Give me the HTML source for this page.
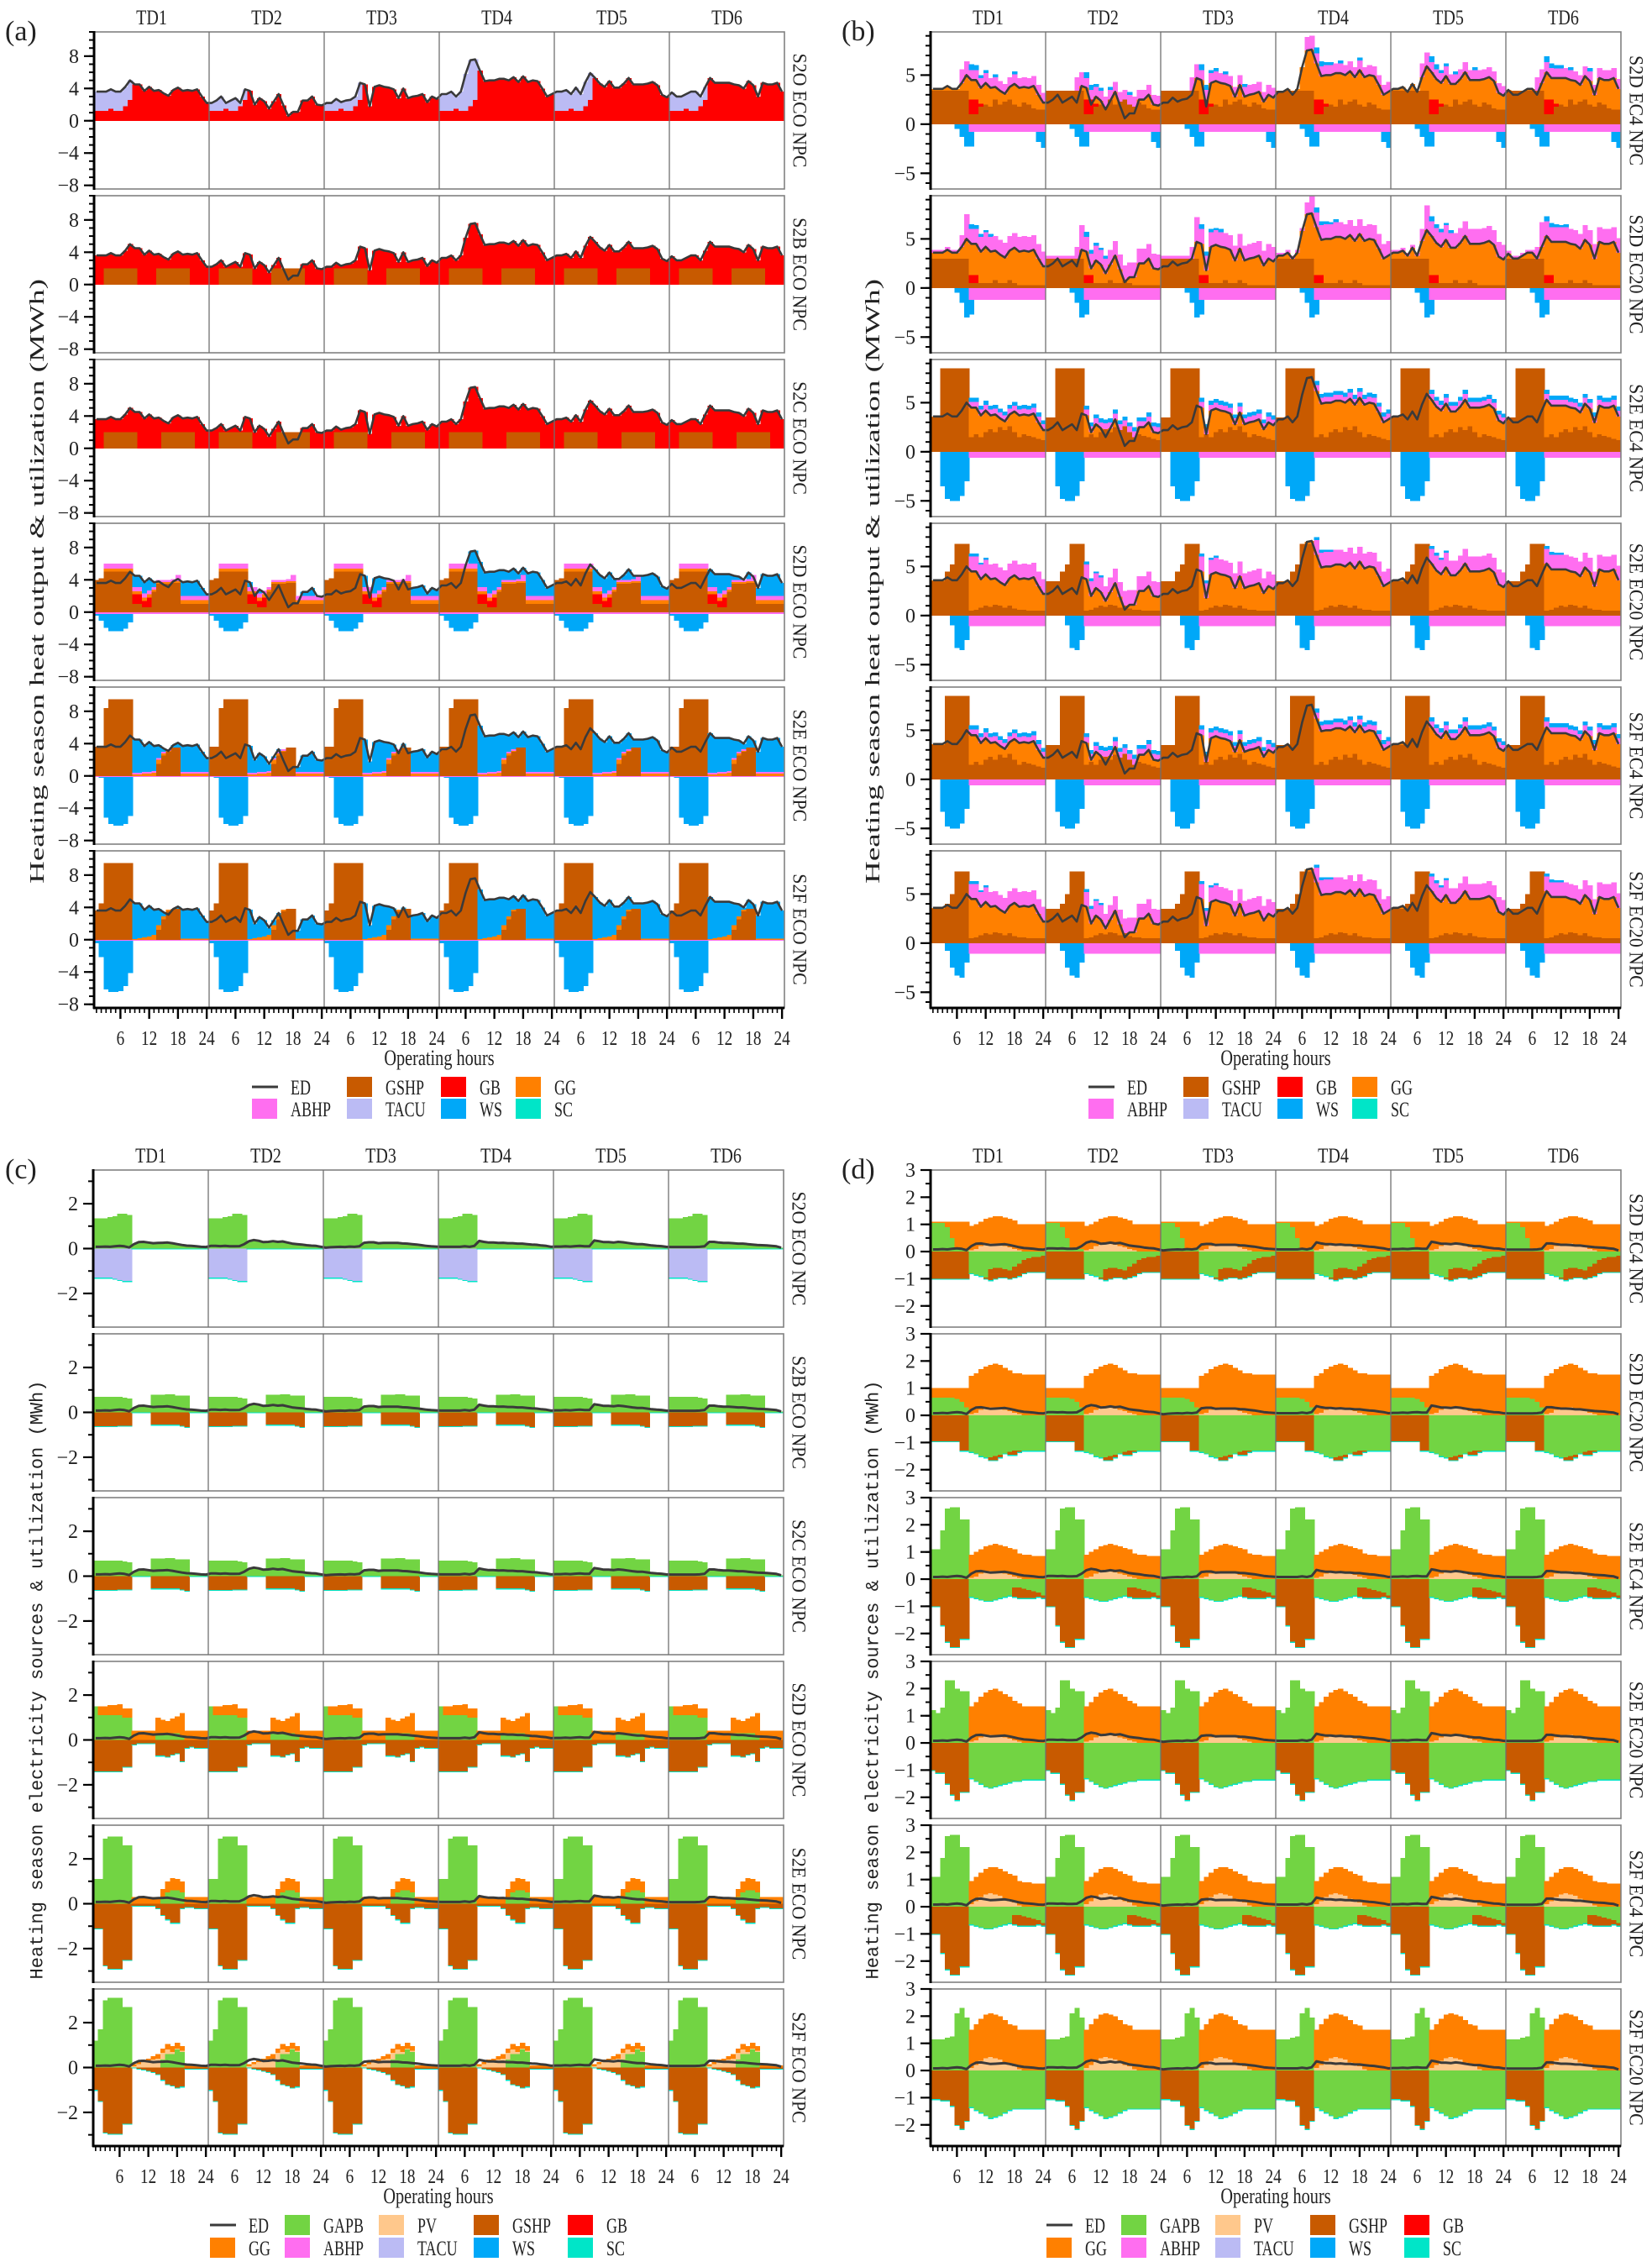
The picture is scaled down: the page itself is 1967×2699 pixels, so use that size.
<!DOCTYPE html>
<html><head><meta charset="utf-8">
<style>
html,body{margin:0;padding:0;background:#fff;}
svg{display:block;}
text{font-family:"Liberation Serif",serif;fill:#222;}
.mono{font-family:"Liberation Mono",monospace;}
</style></head>
<body>
<svg id="chart" width="1967" height="2699" viewBox="0 0 1967 2699" xmlns="http://www.w3.org/2000/svg"></svg>
<script>
// ---------------- DATA ----------------
const tdLabels=['TD1','TD2','TD3','TD4','TD5','TD6'];
const hourTicks=[6,12,18,24];
const heatTicks=[-8,-4,0,4,8];
const heatTicksB=[-5,0,5];
const elecTicksC=[-2,0,2];
const elecTicksD=[-2,-1,0,1,2,3];
const labelsA=['S2O ECO NPC','S2B ECO NPC','S2C ECO NPC','S2D ECO NPC','S2E ECO NPC','S2F ECO NPC'];
const labelsB=['S2D EC4 NPC','S2D EC20 NPC','S2E EC4 NPC','S2E EC20 NPC','S2F EC4 NPC','S2F EC20 NPC'];

const HEAT_ED=[
3.6,3.6,3.6,3.9,3.6,3.6,4.2,5.0,4.5,4.5,3.7,4.2,3.7,3.8,3.4,3.1,3.8,4.1,3.7,3.8,3.7,3.9,3.0,2.2,
2.2,2.5,3.0,2.2,2.5,2.8,2.2,3.9,3.7,2.0,2.8,2.4,1.5,2.4,3.3,1.9,0.6,1.1,1.1,2.5,2.5,3.0,2.0,1.9,
2.2,2.2,2.7,2.3,2.5,2.6,3.0,4.7,4.5,1.8,4.2,4.4,4.2,4.1,3.9,2.8,4.0,2.8,3.0,3.1,3.3,2.3,3.0,2.7,
3.3,3.3,3.6,3.0,3.6,5.8,7.5,7.6,6.2,4.9,5.0,5.0,5.2,5.2,5.0,5.4,4.8,5.5,4.8,5.0,4.9,4.0,3.0,3.3,
3.6,3.6,3.8,3.3,4.1,3.3,4.8,5.9,5.3,4.6,4.2,4.9,4.1,4.1,4.6,5.3,4.5,4.5,4.5,4.6,4.8,4.4,3.2,2.9,
3.5,3.0,3.0,3.3,3.6,3.6,3.0,4.2,5.3,4.7,4.7,4.7,4.7,4.5,4.4,4.0,4.9,4.4,3.0,4.7,4.5,4.5,4.7,3.6];
const ELEC_ED=[
0.08,0.08,0.09,0.08,0.10,0.12,0.10,0.05,0.20,0.29,0.30,0.27,0.24,0.25,0.26,0.27,0.24,0.20,0.16,0.13,0.12,0.10,0.08,0.07,
0.12,0.12,0.11,0.12,0.10,0.10,0.11,0.20,0.33,0.38,0.35,0.29,0.30,0.33,0.30,0.32,0.27,0.22,0.20,0.18,0.15,0.13,0.12,0.08,
0.04,0.06,0.07,0.08,0.07,0.09,0.08,0.10,0.26,0.28,0.28,0.24,0.25,0.25,0.25,0.25,0.23,0.22,0.20,0.18,0.15,0.12,0.10,0.09,
0.08,0.08,0.08,0.08,0.08,0.10,0.08,0.12,0.34,0.30,0.27,0.27,0.25,0.26,0.24,0.24,0.22,0.22,0.20,0.18,0.17,0.14,0.12,0.08,
0.09,0.09,0.10,0.09,0.11,0.12,0.10,0.10,0.36,0.33,0.29,0.29,0.27,0.30,0.28,0.25,0.22,0.20,0.20,0.17,0.14,0.12,0.11,0.08,
0.07,0.07,0.07,0.07,0.07,0.07,0.08,0.10,0.30,0.30,0.27,0.25,0.25,0.24,0.22,0.22,0.20,0.18,0.16,0.15,0.14,0.12,0.10,0.04];

// (a) heat day profiles
const a1_GBlow=[1.2,1.2,1.2,1.5,1.2,1.2,1.8,2.6,0,0,0,0,0,0,0,0,0,0,0,0,0,0,0,0];
const a1_TACUhours=[1,1,1,1,1,1,1,1,0,0,0,0,0,0,0,0,0,0,0,0,0,0,0,0];
const a2_GSHP=[0,0,2,2,2,2,2,2,2,0,0,0,0,2,2,2,2,2,2,2,0,0,0,0];
const a3_GSHP=[0,0,2,2,2,2,2,2,2,0,0,0,0,0,2,2,2,2,2,2,2,0,0,0];
const a4_GSHP=[4.0,4.2,5.0,5.0,5.0,5.0,5.0,5.0,1.0,1.0,0.6,0.6,2.5,3.5,3.5,3.5,3.6,3.6,1.0,1.0,1.0,1.0,1.0,1.0];
const a4_GB=[0,0,0,0,0,0,0,0,1.2,1.2,0.8,1.2,0,0,0,0,0,0,0,0,0,0,0,0];
const a4_GG=[0,0,0.4,0.4,0.4,0.4,0.4,0.4,0.4,0.4,0.4,0.4,0.3,0.2,0.2,0.2,0.2,0.2,0.5,0.5,0.5,0.5,0.5,0.5];
const a4_ABHP=[0,0,0.6,0.6,0.6,0.6,0.6,0.6,0.5,0.5,0.5,0.5,0.3,0.3,0.3,0.3,0.3,0.8,0.5,0.5,0.5,0.5,0.5,0.5];
const a4_WSn=[-0.2,-0.8,-1.7,-2.1,-2.1,-2.1,-1.8,-1.0,0,0,0,0,0,0,0,0,0,0,0,0,0,0,0,0];
const a4_ABHPn=[-0.25,-0.25,-0.25,-0.25,-0.25,-0.25,-0.25,-0.25,-0.25,-0.25,-0.25,-0.25,-0.25,-0.25,-0.25,-0.25,-0.25,-0.25,-0.25,-0.25,-0.25,-0.25,-0.25,-0.25];
const a5_GSHP=[3.6,3.6,8.4,9.5,9.5,9.5,9.5,9.5,0,0,0,0,0,1.5,2.5,3.0,3.5,3.5,0,0,0,0,0,0];
const a5_GG=[0,0,0,0,0,0,0,0,0.2,0.2,0.3,0.3,0.4,0.5,0.3,0.1,0,0,0.3,0.3,0.3,0.3,0.3,0.3];
const a5_ABHP=[0,0,0,0,0,0,0,0,0.2,0.2,0.2,0.2,0.2,0.2,0.2,0.2,0,0,0.2,0.2,0.2,0.2,0.2,0.2];
const a5_WSn=[0,-0.1,-5.0,-5.8,-6.0,-6.0,-5.8,-4.8,0,0,0,0,0,0,0,0,0,0,0,0,0,0,0,0];
const a5_ABHPn=[-0.15,-0.15,-0.15,-0.15,-0.15,-0.15,-0.15,-0.15,-0.15,-0.15,-0.15,-0.15,-0.15,-0.15,-0.15,-0.15,-0.15,-0.15,-0.15,-0.15,-0.15,-0.15,-0.15,-0.15];
const a6_GSHP=[3.6,4.5,9.5,9.5,9.5,9.5,9.5,9.5,0,0,0,0,0,1.2,2.5,3.5,3.8,3.8,0,0,0,0,0,0];
const a6_GG=[0,0,0,0,0,0,0,0,0.1,0.2,0.3,0.4,0.6,0.6,0.4,0.2,0,0,0.15,0.15,0.15,0.15,0.15,0.15];
const a6_WSn=[-0.3,-2.0,-6.0,-6.3,-6.3,-6.2,-5.6,-4.0,0,0,0,0,0,0,0,0,0,0,0,0,0,0,0,0];

// (b) heat day profiles
const b1_GSHP=[3.4,3.4,3.4,3.4,3.4,3.4,3.4,3.4,1.0,1.0,1.8,2.0,1.8,2.5,2.0,2.3,2.5,2.0,1.8,2.2,2.0,1.6,1.5,1.5];
const b1_GB=[0,0,0,0,0,0,0,0,1.5,1.5,0.3,0,0,0,0,0,0,0,0,0,0,0,0,0];
const b1_ABHP=[0,0,0,0,0,0,1.4,1.4,1.0,1.0,1.0,1.0,1.0,1.0,1.0,1.0,1.0,1.0,1.0,1.0,1.0,1.0,1.0,1.0];
const b1_WS=[0,0,0,0,0,0,0,0,0.6,0.5,0.3,0.3,0,0.3,0,0,0,0.3,0,0,0,0,0,0];
const b1_ABHPn=[0,0,0,0,0,0,0,0,-0.8,-0.8,-0.8,-0.8,-0.8,-0.8,-0.8,-0.8,-0.8,-0.8,-0.8,-0.8,-0.8,-0.8,-0.8,-0.8];
const b1_WSn=[0,0,0,0,0,-0.5,-1.3,-2.3,-1.5,0,0,0,0,0,0,0,0,0,0,0,0,0,-1.0,-1.6];
const b2_GSHP=[3.0,3.0,3.0,3.0,3.0,3.0,3.0,3.0,0.5,0.5,0.5,0.5,0.5,0.8,0.5,0.5,0.8,0.5,0.3,0.3,0.3,0.3,0.3,0.3];
const b2_GB=[0,0,0,0,0,0,0,0,0.8,0.8,0,0,0,0,0,0,0,0,0,0,0,0,0,0];
const b2_ABHP=[0.3,0.3,0.3,0.3,0.3,0.3,1.2,2.5,1.5,1.5,1.5,1.5,1.5,1.5,1.5,1.5,1.5,1.5,1.5,1.5,1.5,1.5,1.5,1.5];
const b2_WS=[0,0,0,0,0,0,0,0,0.5,0.4,0.3,0.2,0.3,0,0,0,0,0,0,0,0,0,0,0];
const b2_ABHPn=[0,0,0,0,0,0,0,0,-1.2,-1.2,-1.2,-1.2,-1.2,-1.2,-1.2,-1.2,-1.2,-1.2,-1.2,-1.2,-1.2,-1.2,-1.2,-1.2];
const b2_WSn=[0,0,0,0,0,-0.5,-1.5,-3.0,-1.5,0,0,0,0,0,0,0,0,0,0,0,0,0,0,0];
const b3_GSHP=[3.5,3.5,8.5,8.5,8.5,8.5,8.5,8.5,1.5,1.8,1.5,2.0,2.3,2.0,2.5,2.2,2.6,2.0,1.5,1.8,1.6,1.5,1.3,1.2];
const b3_ABHP=[0,0,0,0,0,0,0,0,0.6,0.6,0.6,0.6,0.6,0.6,0.6,0.6,0.6,0.6,0.6,0.6,0.6,0.6,0.6,0.6];
const b3_WS=[0,0,0,0,0,0,0,0,0.4,0.4,0.4,0.4,0.4,0.4,0.4,0.4,0.4,0.4,0.4,0.4,0.4,0.4,0.4,0.4];
const b3_WSn=[0,0,-3.5,-4.8,-5.0,-5.0,-4.5,-3.0,0,0,0,0,0,0,0,0,0,0,0,0,0,0,0,0];
const b3_ABHPn=[0,0,0,0,0,0,0,0,-0.6,-0.6,-0.6,-0.6,-0.6,-0.6,-0.6,-0.6,-0.6,-0.6,-0.6,-0.6,-0.6,-0.6,-0.6,-0.6];
const b4_GSHP=[3.5,3.5,3.5,4.5,5.2,7.3,7.3,7.3,0.5,0.6,0.8,1.0,0.9,1.1,1.0,0.8,1.0,0.7,0.6,0.6,0.5,0.5,0.5,0.5];
const b4_ABHP=[0,0,0,0,0,0,0,0,1.5,1.5,1.5,1.5,1.5,1.5,1.5,1.5,1.5,1.5,1.5,1.5,1.5,1.5,1.5,1.5];
const b4_WS=[0,0,0,0,0,0,0,0,0.3,0.3,0.2,0.2,0,0,0,0,0,0,0,0,0,0,0,0];
const b4_WSn=[0,0,0,0,-1.0,-3.3,-3.5,-2.5,0,0,0,0,0,0,0,0,0,0,0,0,0,0,0,0];
const b4_ABHPn=[0,0,0,0,0,0,0,0,-1.1,-1.1,-1.1,-1.1,-1.1,-1.1,-1.1,-1.1,-1.1,-1.1,-1.1,-1.1,-1.1,-1.1,-1.1,-1.1];
const b5_GSHP=[3.5,3.5,3.5,8.5,8.5,8.5,8.5,8.5,1.5,1.8,1.5,2.0,2.3,2.0,2.5,2.2,2.6,2.0,1.5,1.8,1.6,1.5,1.3,1.2];
const b5_WSn=[0,0,-3.3,-4.8,-5.0,-5.0,-4.5,-3.0,0,0,0,0,0,0,0,0,0,0,0,0,0,0,0,0];
const b6_GSHP=[3.5,3.5,3.5,4.0,5.0,7.3,7.3,7.3,0.5,0.6,0.8,1.0,0.9,1.1,1.0,0.8,1.0,0.7,0.6,0.6,0.5,0.5,0.5,0.5];
const b6_WSn=[0,0,0,-0.8,-2.5,-3.3,-3.5,-2.0,0,0,0,0,0,0,0,0,0,0,0,0,0,0,0,0];

// (c) electricity day profiles
const c1_GAPB=[1.35,1.35,1.35,1.4,1.45,1.55,1.55,1.5,0,0,0,0,0,0,0,0,0,0,0,0,0,0,0,0];
const c1_TACUn=[-1.3,-1.3,-1.3,-1.3,-1.35,-1.4,-1.45,-1.45,0,0,0,0,0,0,0,0,0,0,0,0,0,0,0,0];
const c2_GAPB=[0.7,0.7,0.7,0.7,0.7,0.7,0.65,0.62,0,0,0,0,0.78,0.78,0.78,0.8,0.8,0.75,0.75,0.75,0,0,0,0];
const c2_GSHPn=[-0.62,-0.62,-0.62,-0.62,-0.62,-0.6,-0.6,-0.6,0,0,0,0,-0.55,-0.55,-0.55,-0.55,-0.55,-0.55,-0.6,-0.65,0,0,0,0];
const c4_GAPB=[1.5,1.1,1.1,1.1,1.1,1.1,1.0,1.0,0,0,0,0,0,0.3,0.3,0.3,0.3,0.3,0.2,0,0,0,0,0];
const c4_GG=[0,0.4,0.4,0.45,0.45,0.5,0.4,0.4,0.42,0.42,0.42,0.42,0.42,0.7,0.6,0.55,0.65,0.75,1.0,0.42,0.42,0.42,0.42,0.42];
const c4_GSHPn=[-1.4,-1.4,-1.4,-1.4,-1.4,-1.4,-1.2,-1.2,-0.2,-0.15,-0.15,-0.15,-0.15,-0.7,-0.7,-0.75,-0.65,-0.6,-0.95,-0.35,-0.3,-0.35,-0.35,-0.35];
const c5_GAPB=[1.1,1.1,2.9,3.0,3.0,3.0,2.6,2.6,0,0,0,0,0,0,0.3,0.5,0.6,0.6,0.5,0,0,0,0,0];
const c5_GG=[0,0,0,0,0,0,0,0,0.3,0.3,0.3,0.3,0.3,0.3,0.35,0.5,0.55,0.5,0.5,0.3,0.3,0.3,0.3,0.3];
const c5_GSHPn=[-1.1,-1.1,-2.75,-2.9,-2.9,-2.9,-2.5,-2.5,-0.1,-0.1,-0.1,-0.1,-0.1,-0.2,-0.5,-0.7,-0.85,-0.85,-0.2,-0.15,-0.15,-0.2,-0.2,-0.2];
const c6_GAPB=[1.2,1.7,3.0,3.1,3.1,3.1,2.7,2.7,0,0,0,0,0,0,0.35,0.6,0.6,0.8,0.7,0,0,0,0,0];
const c6_PV=[0,0,0,0,0,0,0,0,0.05,0.15,0.25,0.3,0.35,0.4,0.3,0.2,0.1,0.05,0.05,0,0,0,0,0];
const c6_GG=[0,0,0,0,0,0,0,0,0.1,0.1,0.1,0.1,0.15,0.2,0.2,0.25,0.25,0.25,0.2,0.1,0.1,0.1,0.1,0.1];
const c6_GSHPn=[-1.0,-1.5,-2.9,-2.95,-2.95,-2.95,-2.5,-2.5,0,-0.05,-0.1,-0.15,-0.2,-0.3,-0.55,-0.75,-0.8,-0.9,-0.85,-0.05,-0.05,-0.05,-0.05,-0.05];
const SC_e=[-0.04,-0.04,-0.04,-0.04,-0.04,-0.04,-0.04,-0.04,-0.04,-0.04,-0.04,-0.04,-0.04,-0.04,-0.04,-0.04,-0.04,-0.04,-0.04,-0.04,-0.04,-0.04,-0.04,-0.04];

// (d) electricity day profiles
const d_PV=[0,0,0,0,0,0,0,0,0.05,0.1,0.2,0.25,0.3,0.3,0.25,0.2,0.15,0.1,0.05,0,0,0,0,0];
const d5_PV=[0,0,0,0,0,0,0,0,0.1,0.2,0.35,0.45,0.5,0.45,0.4,0.3,0.2,0.15,0.05,0,0,0,0,0];
const d1_GAPB=[1.05,1.05,1.05,0.9,0.5,0.1,0.1,0.1,0,0,0,0,0,0,0,0,0,0,0,0,0,0,0,0];
const d1_GG=[0.05,0.05,0.05,0.2,0.6,1.0,1.0,1.0,0.9,0.9,0.9,0.95,0.95,1.0,1.05,1.05,1.05,1.05,0.95,1.0,1.0,1.0,1.0,1.0];
const d1_GAPBn=[0,0,0,0,0,0,0,0,-0.8,-0.85,-0.9,-0.95,-0.65,-0.6,-0.6,-0.65,-0.7,-0.55,-0.45,-0.3,-0.25,-0.2,-0.2,-0.15];
const d1_GSHPn=[-1.0,-1.0,-1.0,-1.0,-1.0,-1.0,-1.0,-1.0,0,0,0,-0.05,-0.4,-0.4,-0.35,-0.3,-0.3,-0.4,-0.45,-0.5,-0.5,-0.55,-0.55,-0.6];
const d2_GAPB=[0.65,0.65,0.65,0.65,0.65,0.6,0.5,0.3,0,0,0,0,0,0,0,0,0,0,0,0,0,0,0,0];
const d2_GG=[0.35,0.35,0.35,0.35,0.35,0.4,0.5,0.7,1.4,1.45,1.5,1.55,1.55,1.6,1.6,1.55,1.5,1.45,1.5,1.5,1.5,1.5,1.5,1.5];
const d2_GAPBn=[0,0,0,0,0,0,0,0,-1.35,-1.4,-1.5,-1.55,-1.55,-1.5,-1.45,-1.4,-1.35,-1.3,-1.3,-1.3,-1.3,-1.3,-1.3,-1.3];
const d2_GSHPn=[-0.95,-0.95,-0.95,-0.95,-0.95,-0.95,-1.3,-1.3,0,0,0,0,-0.1,-0.15,-0.1,0,-0.1,-0.15,-0.05,0,0,0,0,0];
const d3_GAPB=[1.1,1.1,1.8,2.6,2.65,2.65,2.2,2.2,0,0,0,0,0,0,0,0,0,0,0,0,0,0,0,0];
const d3_GG=[0,0,0,0,0,0,0,0,0.85,0.9,0.9,0.95,0.95,1.0,1.0,1.0,1.0,1.0,0.9,0.9,0.9,0.85,0.85,0.85];
const d3_GAPBn=[0,0,0,0,0,0,0,0,-0.65,-0.7,-0.75,-0.8,-0.8,-0.75,-0.7,-0.65,-0.6,-0.3,-0.3,-0.35,-0.4,-0.45,-0.5,-0.6];
const d3_GSHPn=[-1.0,-1.0,-1.7,-2.3,-2.5,-2.5,-2.2,-2.2,0,0,0,0,0,0,0,0,0,-0.35,-0.4,-0.35,-0.3,-0.25,-0.15,-0.1];
const d4_GAPB=[1.2,1.1,1.3,2.3,2.3,2.0,1.9,1.9,0,0,0,0,0,0,0,0,0,0,0,0,0,0,0,0];
const d4_GG=[0,0,0,0,0,0,0,0,1.3,1.4,1.5,1.6,1.65,1.7,1.65,1.6,1.55,1.45,1.4,1.35,1.35,1.35,1.35,1.35];
const d4_GAPBn=[0,0,0,0,0,0,0,0,-1.3,-1.4,-1.5,-1.6,-1.65,-1.6,-1.55,-1.5,-1.45,-1.4,-1.4,-1.35,-1.35,-1.35,-1.35,-1.35];
const d4_GSHPn=[-1.0,-1.1,-1.1,-1.5,-1.9,-2.1,-1.8,-1.8,0,0,0,0,0,0,0,0,0,0,0,0,0,0,0,0];
const d6_GAPB=[1.15,1.15,1.15,1.2,1.25,2.1,2.3,1.95,0,0,0,0,0,0,0,0,0,0,0,0,0,0,0,0];
const d6_GG=[0,0,0,0,0,0,0,0,1.4,1.5,1.55,1.6,1.6,1.6,1.6,1.55,1.5,1.5,1.45,1.5,1.5,1.5,1.5,1.5];
const d6_GAPBn=[0,0,0,0,0,0,0,0,-1.35,-1.45,-1.55,-1.65,-1.75,-1.7,-1.65,-1.55,-1.45,-1.4,-1.4,-1.4,-1.4,-1.4,-1.4,-1.4];
const d6_GSHPn=[-1.05,-1.05,-1.1,-1.1,-1.3,-2.0,-2.15,-1.85,0,0,0,0,0,0,0,0,0,0,0,0,0,0,0,0];

// ---------------- STYLE / LAYOUT ----------------
const COL={GSHP:'#C85A00',GB:'#FF0000',GG:'#FF8000',ABHP:'#FF6EF0',TACU:'#BBBBF4',WS:'#00A8F8',SC:'#00E5C8',GAPB:'#72D443',PV:'#FFC88C'};
const TDW=137, HW=TDW/24, SUBH=187, PITCH=195;
const NS='http://www.w3.org/2000/svg';
const svg=document.getElementById('chart');

const panels=[
 {id:'a',left:112,top:38,ylim:[-8.45,11],ticks:heatTicks,minor:1,ed:HEAT_ED,edw:2.6,labels:labelsA,
  title:'Heating season heat output & utilization (MWh)',mono:false,tx:45,ty:692,
  legend:{x:[300,413,525,614],y:[1294,1320],items:[['ED','GSHP','GB','GG'],['ABHP','TACU','WS','SC']]},
  subs:[
   {pos:[['GB',a1_GBlow],['TACU','fill',a1_TACUhours],['GB','fill']],neg:[]},
   {pos:[['GSHP',a2_GSHP],['GB','fill']],neg:[]},
   {pos:[['GSHP',a3_GSHP],['GB','fill']],neg:[]},
   {pos:[['GSHP',a4_GSHP],['GB',a4_GB],['GG',a4_GG],['ABHP',a4_ABHP],['WS','fill']],neg:[['ABHP',a4_ABHPn],['WS',a4_WSn]]},
   {pos:[['GSHP',a5_GSHP],['GG',a5_GG],['ABHP',a5_ABHP],['WS','fill']],neg:[['ABHP',a5_ABHPn],['WS',a5_WSn]]},
   {pos:[['GSHP',a6_GSHP],['GG',a6_GG],['WS','fill']],neg:[['ABHP',a5_ABHPn],['WS',a6_WSn]]}]},
 {id:'b',left:1108,top:38,ylim:[-6.6,9.4],ticks:heatTicksB,minor:1,ed:HEAT_ED,edw:2.6,labels:labelsB,
  title:'Heating season heat output & utilization (MWh)',mono:false,tx:1040,ty:692,
  legend:{x:[1296,1409,1521,1610],y:[1294,1320],items:[['ED','GSHP','GB','GG'],['ABHP','TACU','WS','SC']]},
  subs:[
   {pos:[['GSHP',b1_GSHP],['GB',b1_GB],['GG','fill'],['ABHP',b1_ABHP],['WS',b1_WS]],neg:[['ABHP',b1_ABHPn],['WS',b1_WSn]]},
   {pos:[['GSHP',b2_GSHP],['GB',b2_GB],['GG','fill'],['ABHP',b2_ABHP],['WS',b2_WS]],neg:[['ABHP',b2_ABHPn],['WS',b2_WSn]]},
   {pos:[['GSHP',b3_GSHP],['GG','fill'],['ABHP',b3_ABHP],['WS',b3_WS]],neg:[['ABHP',b3_ABHPn],['WS',b3_WSn]]},
   {pos:[['GSHP',b4_GSHP],['GG','fill'],['ABHP',b4_ABHP],['WS',b4_WS]],neg:[['ABHP',b4_ABHPn],['WS',b4_WSn]]},
   {pos:[['GSHP',b5_GSHP],['GG','fill'],['ABHP',b3_ABHP],['WS',b3_WS]],neg:[['ABHP',b3_ABHPn],['WS',b5_WSn]]},
   {pos:[['GSHP',b6_GSHP],['GG','fill'],['ABHP',b4_ABHP],['WS',b4_WS]],neg:[['ABHP',b4_ABHPn],['WS',b6_WSn]]}]},
 {id:'c',left:111,top:1393,ylim:[-3.5,3.5],ticks:elecTicksC,minor:1,ed:ELEC_ED,edw:3,labels:labelsA,
  title:'Heating season electricity sources & utilization (MWh)',mono:true,tx:45,ty:2000,
  legend:{x:[250,339,451,564,676],y:[2649,2676],items:[['ED','GAPB','PV','GSHP','GB'],['GG','ABHP','TACU','WS','SC']]},
  subs:[
   {pos:[['GAPB',c1_GAPB],['GAPB','fill']],neg:[['TACU',c1_TACUn],['SC',SC_e]]},
   {pos:[['GAPB',c2_GAPB],['GAPB','fill']],neg:[['GSHP',c2_GSHPn],['SC',SC_e]]},
   {pos:[['GAPB',c2_GAPB],['GAPB','fill']],neg:[['GSHP',c2_GSHPn],['SC',SC_e]]},
   {pos:[['GAPB',c4_GAPB],['GG',c4_GG]],neg:[['GSHP',c4_GSHPn],['SC',SC_e]]},
   {pos:[['GAPB',c5_GAPB],['GG',c5_GG]],neg:[['GSHP',c5_GSHPn],['SC',SC_e]]},
   {pos:[['GAPB',c6_GAPB],['PV',c6_PV],['GG',c6_GG]],neg:[['GSHP',c6_GSHPn],['SC',SC_e]]}]},
 {id:'d',left:1108,top:1393,ylim:[-2.78,3.0],ticks:elecTicksD,minor:0.5,ed:ELEC_ED,edw:3,labels:labelsB,
  title:'Heating season electricity sources & utilization (MWh)',mono:true,tx:1040,ty:2000,
  legend:{x:[1246,1335,1447,1560,1672],y:[2649,2676],items:[['ED','GAPB','PV','GSHP','GB'],['GG','ABHP','TACU','WS','SC']]},
  subs:[
   {pos:[['GAPB',d1_GAPB],['PV',d_PV],['GG',d1_GG]],neg:[['GAPB',d1_GAPBn],['GSHP',d1_GSHPn],['SC',SC_e]]},
   {pos:[['GAPB',d2_GAPB],['PV',d_PV],['GG',d2_GG]],neg:[['GAPB',d2_GAPBn],['GSHP',d2_GSHPn],['SC',SC_e]]},
   {pos:[['GAPB',d3_GAPB],['PV',d_PV],['GG',d3_GG]],neg:[['GAPB',d3_GAPBn],['GSHP',d3_GSHPn],['SC',SC_e]]},
   {pos:[['GAPB',d4_GAPB],['PV',d_PV],['GG',d4_GG]],neg:[['GAPB',d4_GAPBn],['GSHP',d4_GSHPn],['SC',SC_e]]},
   {pos:[['GAPB',d3_GAPB],['PV',d5_PV],['GG',d3_GG]],neg:[['GAPB',d3_GAPBn],['GSHP',d3_GSHPn],['SC',SC_e]]},
   {pos:[['GAPB',d6_GAPB],['PV',d5_PV],['GG',d6_GG]],neg:[['GAPB',d6_GAPBn],['GSHP',d6_GSHPn],['SC',SC_e]]}]}
];

// ---------------- HELPERS ----------------
function mk(tag,attrs,parent){
  const e=document.createElementNS(NS,tag);
  for(const k in attrs) e.setAttribute(k,attrs[k]);
  (parent||svg).appendChild(e);
  return e;
}
function txt(str,attrs,parent,condense){
  const t=mk('text',attrs,parent);
  t.textContent=str;
  if(condense){
    const L=t.getComputedTextLength();
    if(L>0){t.setAttribute('textLength',(L*condense).toFixed(1));t.setAttribute('lengthAdjust','spacingAndGlyphs');}
  }
  return t;
}

// ---------------- DRAW ----------------
panels.forEach(p=>{
  const g=mk('g',{});
  
  
  const right=p.left+6*TDW;
  const span=p.ylim[1]-p.ylim[0];

  const pl=txt('('+p.id+')',{x:p.id==='a'||p.id==='c'?6:1002,y:p.top+10,'font-size':34},g);
  
  

  tdLabels.forEach((td,t)=>{
    const e=txt(td,{x:p.left+(t+0.5)*TDW,y:p.top-9,'font-size':25,'text-anchor':'middle'},g,0.8);
    
    
  });

  p.subs.forEach((sub,k)=>{
    const top=p.top+k*PITCH, bot=top+SUBH;
    const Y=v=>top+(p.ylim[1]-v)/span*SUBH;
    const sg=mk('g',{},g);
    
    
    const cid='clip'+p.id+k;
    const cp=mk('clipPath',{id:cid},sg);
    mk('rect',{x:p.left,y:top,width:6*TDW,height:SUBH},cp);
    const bars=mk('g',{'clip-path':'url(#'+cid+')','shape-rendering':'crispEdges'},sg);

    for(let i=0;i<144;i++){
      const h=i%24;
      const x=p.left+i*HW;
      let cum=0;
      sub.pos.forEach(s=>{
        let v;
        if(s[1]==='fill'){ v=(s[2] && !s[2][h]) ? 0 : Math.max(0,p.ed[i]-cum); }
        else v=s[1][h];
        if(v>0){
          const r=mk('rect',{x:x.toFixed(2),y:Y(cum+v).toFixed(2),width:(HW+0.6).toFixed(2),height:(Y(cum)-Y(cum+v)).toFixed(2),fill:COL[s[0]]},bars);
          
          
        }
        cum+=v;
      });
      let nc=0;
      sub.neg.forEach(s=>{
        const v=s[1][h];
        if(v<0){
          const r=mk('rect',{x:x.toFixed(2),y:Y(nc).toFixed(2),width:(HW+0.6).toFixed(2),height:(Y(nc+v)-Y(nc)).toFixed(2),fill:COL[s[0]]},bars);
          
          
        }
        nc+=v;
      });
    }
    const pts=p.ed.map((v,i)=>(p.left+(i+0.5)*HW).toFixed(1)+','+Y(v).toFixed(1)).join(' ');
    const ln=mk('polyline',{points:pts,fill:'none',stroke:'#3a3a3a','stroke-width':p.edw,'stroke-linejoin':'round'},sg);
    
    

    const fr=mk('rect',{x:p.left,y:top,width:6*TDW,height:SUBH,fill:'none',stroke:'#808080','stroke-width':1.6},sg);
    
    
    for(let t=1;t<6;t++){
      const d=mk('line',{x1:p.left+t*TDW,x2:p.left+t*TDW,y1:top,y2:bot,stroke:'#707070','stroke-width':1.3},sg);
      
      
    }
    const sp=mk('line',{x1:p.left,x2:p.left,y1:top-1,y2:bot+1,stroke:'#000','stroke-width':3},sg);
    
    
    for(let v=Math.ceil(p.ylim[0]/p.minor)*p.minor; v<=p.ylim[1]+1e-9; v+=p.minor){
      const yy=Y(v);
      const m=mk('line',{x1:p.left-6,x2:p.left,y1:yy,y2:yy,stroke:'#000','stroke-width':2},sg);
      
      
    }
    p.ticks.forEach(v=>{
      const yy=Y(v);
      const m=mk('line',{x1:p.left-12,x2:p.left,y1:yy,y2:yy,stroke:'#000','stroke-width':2.2},sg);
      
      
      const lb=txt(v<0?'\u2212'+Math.abs(v):String(v),{x:p.left-18,y:yy+8,'font-size':24,'text-anchor':'end'},sg);
      
      
    });
    const cx=right+18, cy=top+SUBH/2;
    const rl=txt(p.labels[k],{x:cx,y:cy,'font-size':23,'text-anchor':'middle','dominant-baseline':'central',transform:'rotate(90 '+cx+' '+cy+')'},sg,0.95);
    
    

    if(k===p.subs.length-1){
      const ax=mk('line',{x1:p.left-1,x2:right,y1:bot,y2:bot,stroke:'#000','stroke-width':3},sg);
      
      
      for(let t=0;t<6;t++){
        for(let h=1;h<=24;h++){
          const xx=p.left+t*TDW+(h-0.5)*HW;
          const major=hourTicks.indexOf(h)>=0;
          const tk=mk('line',{x1:xx,x2:xx,y1:bot,y2:bot+(major?13:6),stroke:'#000','stroke-width':major?2.4:1.6},sg);
          
          
          if(major){
            const xl=txt(String(h),{x:xx,y:bot+44,'font-size':24,'text-anchor':'middle'},sg,0.8);
            
            
          }
        }
      }
      const xt=txt('Operating hours',{x:p.left+3*TDW,y:bot+68,'font-size':26,'text-anchor':'middle'},sg,0.78);
      
      
    }
  });

  const yt=txt(p.title,{x:p.tx,y:p.ty,'font-size':p.mono?22:24,'text-anchor':'middle','dominant-baseline':'central',transform:'rotate(-90 '+p.tx+' '+p.ty+')','class':p.mono?'mono':''},g);
  if(!p.mono){yt.setAttribute('textLength','720');yt.setAttribute('lengthAdjust','spacingAndGlyphs');}
  
  

  const lg=mk('g',{},g);
  
  
  p.legend.items.forEach((row,ri)=>{
    row.forEach((nm,ci)=>{
      const x0=p.legend.x[ci], y0=p.legend.y[ri];
      const eg=mk('g',{},lg);
      
      
      if(nm==='ED'){
        mk('line',{x1:x0,x2:x0+31,y1:y0,y2:y0,stroke:'#3a3a3a','stroke-width':3},eg);
      } else {
        mk('rect',{x:x0,y:y0-12,width:30,height:24,fill:COL[nm]},eg);
      }
      txt(nm,{x:x0+46,y:y0+9,'font-size':25},eg,0.72);
    });
  });
});
</script>
</body></html>
